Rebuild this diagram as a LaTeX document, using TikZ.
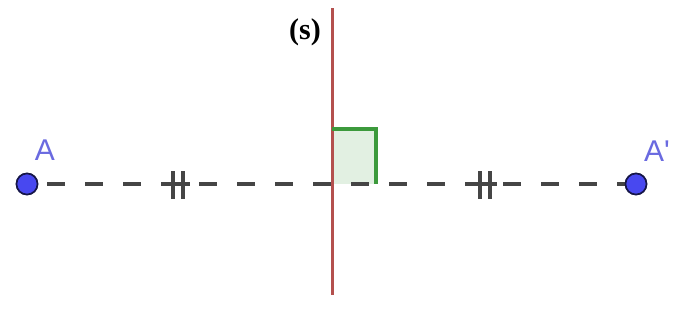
\documentclass[tikz,border=0pt]{standalone}
\usepackage{fontspec}
\setmainfont{Liberation Serif}
\newfontfamily\geofont{Liberation Sans}
\usetikzlibrary{positioning}
\definecolor{ptblue}{HTML}{4848F0}
\definecolor{lblblue}{HTML}{6A6AE0}
\definecolor{axisred}{HTML}{B4504E}
\definecolor{sqgreen}{HTML}{3C9A3C}
\definecolor{segray}{HTML}{454545}

\begin{document}
\begin{tikzpicture}[x=1pt,y=-1pt,
      pt/.style={circle,draw=black!70!ptblue,fill=ptblue,line width=1.6pt,inner sep=0pt,minimum size=21pt},
      lbl/.style={font=\geofont\fontsize{30}{30}\selectfont,text=lblblue,inner sep=0pt},
      seg/.style={segray,line width=4.4pt,dash pattern=on 18pt off 20pt,dash phase=18pt},
      tick/.style={segray,line width=3.2pt},
      axis/.style={axisred,line width=3pt}]
    \useasboundingbox (0,0) rectangle (681,325);
    % right angle mark
    \fill[sqgreen!15] (332,129) rectangle (376,184);
    \draw[axis] (332,8) coordinate (stop) -- (332,295) coordinate (sbot);
    \draw[sqgreen,line width=3.4pt] (332,129) -- (376,129) -- (376,184);
    \node[font=\bfseries\fontsize{30}{30}\selectfont,inner sep=0pt] (slbl) at (305,32) {(s)};
    % points
    \node[pt] (A)  at (27,184)  {};
    \node[pt] (A2) at (636,184) {};
    \draw[seg] (A.center) -- (A2.center);
    \node[pt] at (A) {};
    \node[pt] at (A2) {};
    \node[lbl] (lA)  at (45,150)  {A};
    \node[lbl] (lA2) at (657,151) {A'};
    % equal length marks
    \foreach \x in {173,183,480,490}
      \draw[tick] (\x,171) -- (\x,199);
    \draw[tick] (166,184) -- (190,184);
    \draw[tick] (473,184) -- (497,184);
  \end{tikzpicture}
\end{document}
